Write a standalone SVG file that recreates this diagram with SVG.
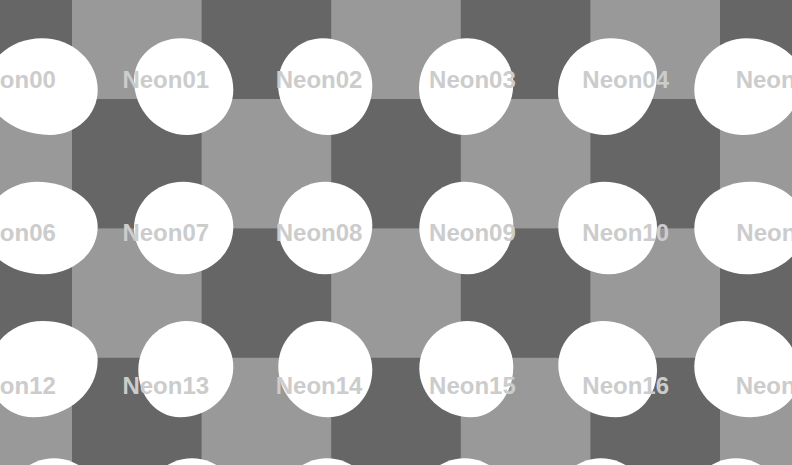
<svg xmlns="http://www.w3.org/2000/svg" width="792" height="465" viewBox="0 0 792 465">
<style>
.light{fill:#999999}
.dark{fill:#666666}
.blob{fill:#ffffff}
.lbl{font-family:"Liberation Sans",Arial,sans-serif;font-weight:bold;font-size:24px;fill:#cccccc;text-anchor:middle}
</style>
<g id="board">
<rect class="light" x="0" y="0" width="792" height="465"/>
<rect class="dark" x="-57.6" y="-30.4" width="129.6" height="129.4"/>
<rect class="dark" x="201.6" y="-30.4" width="129.6" height="129.4"/>
<rect class="dark" x="460.8" y="-30.4" width="129.6" height="129.4"/>
<rect class="dark" x="720" y="-30.4" width="129.6" height="129.4"/>
<rect class="dark" x="72" y="99" width="129.6" height="129.4"/>
<rect class="dark" x="331.2" y="99" width="129.6" height="129.4"/>
<rect class="dark" x="590.4" y="99" width="129.6" height="129.4"/>
<rect class="dark" x="-57.6" y="228.4" width="129.6" height="129.4"/>
<rect class="dark" x="201.6" y="228.4" width="129.6" height="129.4"/>
<rect class="dark" x="460.8" y="228.4" width="129.6" height="129.4"/>
<rect class="dark" x="720" y="228.4" width="129.6" height="129.4"/>
<rect class="dark" x="72" y="357.8" width="129.6" height="129.4"/>
<rect class="dark" x="331.2" y="357.8" width="129.6" height="129.4"/>
<rect class="dark" x="590.4" y="357.8" width="129.6" height="129.4"/>
</g>
<g id="connectors"/>
<g id="neon00"><path class="blob" d="M42,38.3 C72.8,38.3 97.7,61.4 97.7,90 C97.7,114.9 76.3,135 50,135 C14.7,135 -14,113.1 -14,86 C-14,59.7 11.1,38.3 42,38.3Z"/><text class="lbl" x="12.5" y="88">Neon00</text></g>
<g id="neon01"><path class="blob" d="M181,38.3 C209.9,38.3 233.3,61.4 233.3,90 C233.3,114.9 212.6,135 187,135 C157.7,135 134,110.4 134,80 C134,57 155,38.3 181,38.3Z"/><text class="lbl" x="165.8" y="88">Neon01</text></g>
<g id="neon02"><path class="blob" d="M323,38.3 C350.2,38.3 372.3,59.7 372.3,86 C372.3,113.1 352.5,135 328,135 C300.4,135 278,112.2 278,84 C278,58.8 298.1,38.3 323,38.3Z"/><text class="lbl" x="319.1" y="88">Neon02</text></g>
<g id="neon03"><path class="blob" d="M467,38.3 C492.6,38.3 513.3,58.8 513.3,84 C513.3,112.2 491.7,135 465,135 C439.6,135 419,114 419,88 C419,60.6 440.5,38.3 467,38.3Z"/><text class="lbl" x="472.4" y="88">Neon03</text></g>
<g id="neon04"><path class="blob" d="M611,38.3 C636.4,38.3 657,54.3 657,74 C657,107.7 633.7,135 605,135 C579,135 558,115.7 558,92 C558,62.3 581.7,38.3 611,38.3Z"/><text class="lbl" x="625.7" y="88">Neon04</text></g>
<g id="neon05"><path class="blob" d="M746.7,38.3 C777.2,38.3 802,57 802,80 C802,110.4 775.6,135 743,135 C716.1,135 694.3,114.9 694.3,90 C694.3,61.4 717.8,38.3 746.7,38.3Z"/><text class="lbl" x="779" y="88">Neon05</text></g>
<g id="neon06"><path class="blob" d="M37,181.7 C70.5,181.7 97.7,201.8 97.7,226.7 C97.7,253 73.2,274.3 43,274.3 C10.4,274.3 -16,254.5 -16,230 C-16,203.3 7.7,181.7 37,181.7Z"/><text class="lbl" x="12.5" y="241">Neon06</text></g>
<g id="neon07"><path class="blob" d="M183,181.7 C210.8,181.7 233.3,201.8 233.3,226.7 C233.3,253 210.8,274.3 183,274.3 C155.9,274.3 134,253.6 134,228 C134,202.4 155.9,181.7 183,181.7Z"/><text class="lbl" x="165.8" y="241">Neon07</text></g>
<g id="neon08"><path class="blob" d="M325,181.7 C351.1,181.7 372.3,201.1 372.3,225 C372.3,252.2 351.1,274.3 325,274.3 C299.2,274.3 278.3,253.6 278.3,228 C278.3,202.4 299.2,181.7 325,181.7Z"/><text class="lbl" x="319.1" y="241">Neon08</text></g>
<g id="neon09"><path class="blob" d="M464.3,181.7 C491.4,181.7 513.3,200.6 513.3,224 C513.3,251.8 492.9,274.3 467.7,274.3 C441,274.3 419.3,253.6 419.3,228 C419.3,202.4 439.4,181.7 464.3,181.7Z"/><text class="lbl" x="472.4" y="241">Neon09</text></g>
<g id="neon10"><path class="blob" d="M604,181.7 C633.3,181.7 657,201.8 657,226.7 C657,253 635.5,274.3 609,274.3 C581,274.3 558.3,253 558.3,226.7 C558.3,201.8 578.8,181.7 604,181.7Z"/><text class="lbl" x="625.7" y="241">Neon10</text></g>
<g id="neon11"><path class="blob" d="M750,181.7 C780.4,181.7 805,201.5 805,226 C805,252.7 778.9,274.3 746.7,274.3 C717.8,274.3 694.3,253.6 694.3,228 C694.3,202.4 719.2,181.7 750,181.7Z"/><text class="lbl" x="779" y="241">Neon11</text></g>
<g id="neon12"><path class="blob" d="M43,321 C73.2,321 97.7,338.5 97.7,360 C97.7,391.6 68.7,417.3 33,417.3 C8.1,417.3 -12,397 -12,372 C-12,343.8 12.6,321 43,321Z"/><text class="lbl" x="12.5" y="393.5">Neon12</text></g>
<g id="neon13"><path class="blob" d="M186.7,321 C212.4,321 233.3,341.5 233.3,366.7 C233.3,394.6 209.4,417.3 180,417.3 C157,417.3 138.3,396.1 138.3,370 C138.3,342.9 160,321 186.7,321Z"/><text class="lbl" x="165.8" y="393.5">Neon13</text></g>
<g id="neon14"><path class="blob" d="M320,321 C348.9,321 372.3,342.9 372.3,370 C372.3,396.1 352.5,417.3 328,417.3 C300.6,417.3 278.3,394.6 278.3,366.7 C278.3,341.5 297,321 320,321Z"/><text class="lbl" x="319.1" y="393.5">Neon14</text></g>
<g id="neon15"><path class="blob" d="M467.7,321 C492.9,321 513.3,341.5 513.3,366.7 C513.3,394.6 494.4,417.3 471,417.3 C442.4,417.3 419.3,395.4 419.3,368.3 C419.3,342.2 441,321 467.7,321Z"/><text class="lbl" x="472.4" y="393.5">Neon15</text></g>
<g id="neon16"><path class="blob" d="M602.7,321 C632.7,321 657,342.9 657,370 C657,396.1 638.6,417.3 616,417.3 C584.1,417.3 558.3,393.9 558.3,365 C558.3,340.7 578.2,321 602.7,321Z"/><text class="lbl" x="625.7" y="393.5">Neon16</text></g>
<g id="neon17"><path class="blob" d="M743,321 C774.5,321 800,345.2 800,375 C800,398.4 777.6,417.3 750,417.3 C719.2,417.3 694.3,394.6 694.3,366.7 C694.3,341.5 716.1,321 743,321Z"/><text class="lbl" x="779" y="393.5">Neon17</text></g>
<g id="neon18"><ellipse class="blob" cx="54" cy="506.3" rx="48" ry="48"/></g>
<g id="neon19"><ellipse class="blob" cx="192" cy="506.3" rx="48" ry="48"/></g>
<g id="neon20"><ellipse class="blob" cx="327" cy="506.3" rx="48" ry="48"/></g>
<g id="neon21"><ellipse class="blob" cx="464.5" cy="506.3" rx="48" ry="48"/></g>
<g id="neon22"><ellipse class="blob" cx="601" cy="506.3" rx="48" ry="48"/></g>
<g id="neon23"><ellipse class="blob" cx="736" cy="506.3" rx="48" ry="48"/></g>
</svg>
